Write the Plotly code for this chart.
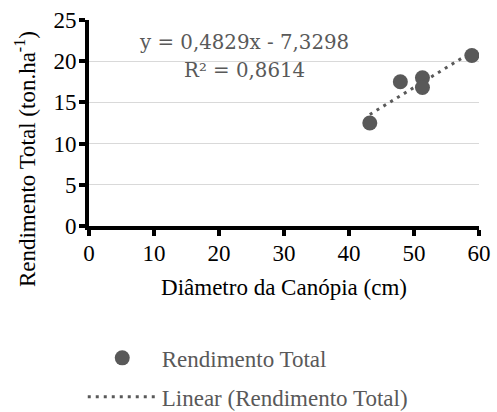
import numpy as np
import plotly.graph_objects as go

# Data
diametro = [43.2, 47.9, 51.3, 51.3, 58.9]
rendimento = [12.5, 17.5, 18.0, 16.8, 20.7]
slope = 0.4829
intercept = -7.3298
r2 = 0.8614
x_ticks = [0, 10, 20, 30, 40, 50, 60]
y_ticks = [0, 5, 10, 15, 20, 25]

GRAY = "#595959"
SERIF = "Liberation Serif"

tx = np.array([min(diametro), max(diametro)])
ty = slope * tx + intercept

fig = go.Figure()
fig.add_trace(go.Scatter(
    x=diametro, y=rendimento, mode="markers", name="Rendimento Total",
    marker=dict(color=GRAY, size=15), legendgroup="a"))
fig.add_trace(go.Scatter(
    x=tx, y=ty, mode="lines", name="Linear (Rendimento Total)",
    line=dict(color=GRAY, width=3, dash="3px,5px"), legendgroup="b"))

fig.add_annotation(x=23.85, y=22.3, xref="x", yref="y", showarrow=False,
                   text="y = 0,4829x - 7,3298",
                   font=dict(family="DejaVu Serif", size=19.8, color=GRAY))
fig.add_annotation(x=23.85, y=18.9, xref="x", yref="y", showarrow=False,
                   text="R² = 0,8614",
                   font=dict(family="DejaVu Serif", size=19.8, color=GRAY))

fig.add_annotation(x=-0.164, y=0.325, xref="paper", yref="paper", showarrow=False,
                   xanchor="center", yanchor="middle",
                   text="Rendimento Total (ton.ha<sup>-1</sup>)", textangle=-90,
                   font=dict(family=SERIF, size=23, color="black"))

fig.update_layout(
    width=497, height=412,
    margin=dict(l=89, r=18, t=20, b=186, autoexpand=False),
    paper_bgcolor="white", plot_bgcolor="white",
    font=dict(family=SERIF, size=23, color="black"),
    showlegend=True,
    legend=dict(x=-0.016, y=-0.536, xanchor="left", yanchor="top",
                font=dict(family=SERIF, size=23, color=GRAY),
                itemwidth=69, tracegroupgap=6, bgcolor="rgba(0,0,0,0)"),
    xaxis=dict(range=[0, 60], tickvals=x_ticks, showgrid=False, zeroline=False,
               showline=True, linecolor="black", linewidth=4,
               ticks="outside", ticklen=6, tickwidth=4, tickcolor="black",
               ticklabelstandoff=-3,
               title=dict(text="Diâmetro da Canópia (cm)", standoff=15,
                          font=dict(family=SERIF, size=23, color="black"))),
    yaxis=dict(range=[0, 25], tickvals=y_ticks, showgrid=True, gridcolor="#d9d9d9",
               gridwidth=1, zeroline=False,
               showline=True, linecolor="black", linewidth=4,
               ticks="outside", ticklen=6, tickwidth=4, tickcolor="black",
               ticklabelstandoff=-2),
)

fig.write_html("out.html", config={"displayModeBar": False},
               post_script="document.body.style.margin='0px';")
